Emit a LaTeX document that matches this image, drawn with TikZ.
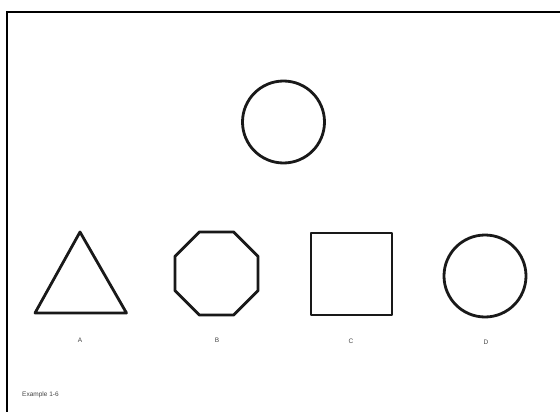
\documentclass[tikz,border=0pt]{standalone}
\usepackage{fontspec}
\setmainfont{Liberation Sans}
\definecolor{labelgray}{HTML}{444444}
\begin{document}
\begin{tikzpicture}[x=1pt,y=-1pt,
  shape line/.style={draw=black!90, line width=2.8pt, line join=round},
  lbl/.style={font=\fontsize{6.5}{7}\selectfont, text=labelgray, inner sep=0pt},
  note/.style={font=\fontsize{6.5}{8}\selectfont, text=labelgray, inner sep=0pt, anchor=west}]
\useasboundingbox[fill=white] (0,0) rectangle (560,412);
% frame
\draw[line width=2pt] (7,412) -- (7,12) -- (560,12);
% top circle
\draw[shape line] (283.5,122) circle[radius=41];
% A triangle
\draw[shape line] (80,232) -- (126.5,313) -- (35,313) -- cycle;
% B octagon
\draw[shape line] (199.3,232) -- (233.7,232) -- (258,256.3) -- (258,290.7) -- (233.7,315) -- (199.3,315) -- (175,290.7) -- (175,256.3) -- cycle;
% C square
\draw[shape line] (311,233) rectangle (392,315);
% D circle
\draw[shape line] (485,276) circle[radius=41];
% labels
\node[lbl] (la) at (80,340) {A};
\node[lbl] (lb) at (217,340) {B};
\node[lbl] (lc) at (351,341) {C};
\node[lbl] (ld) at (486,342) {D};
\node[note] (ex) at (22,395) {Example 1-6};
\end{tikzpicture}
\end{document}
